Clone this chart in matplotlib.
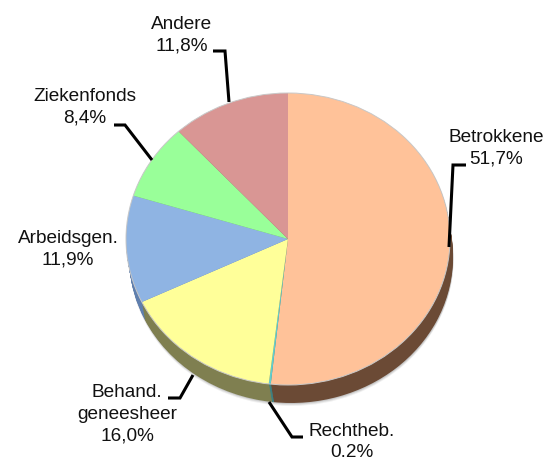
import matplotlib
matplotlib.use('Agg')
import matplotlib.pyplot as plt
import numpy as np

plt.rcParams['font.family'] = ['Liberation Sans', 'DejaVu Sans']

names = ['Betrokkene', 'Rechtheb.', 'Behand.\ngeneesheer', 'Arbeidsgen.', 'Ziekenfonds', 'Andere']
values = [51.7, 0.2, 16.0, 11.9, 8.4, 11.8]
pct_labels = ['51,7%', '0.2%', '16,0%', '11,9%', '8,4%', '11,8%']
colors = ['#FFC299', '#5FCFD0', '#FFFF99', '#8FB4E3', '#99FF99', '#D99694']
side_colors = ['#6B4A35', '#3F7F80', '#7F7F50', '#5F7FAE', '#66A866', '#8F6462']

W, H = 554, 461
cx, cy, rx, ry = 288, 239, 162, 146
depth = 18

label_pos = [(496, 148), (352, 442), (127, 414), (68, 249), (85, 107), (182, 35)]
leaders = [
    [(449, 247), (453, 165), (466, 165)],
    [(269, 402), (292, 437), (303, 437)],
    [(193, 375), (180, 398), (168, 398)],
    None,
    [(152, 160), (125, 125), (114, 125)],
    [(229, 102), (225, 51), (213, 51)],
]

fig = plt.figure(figsize=(W / 100, H / 100), dpi=100)
ax = fig.add_axes([0, 0, 1, 1])

# soft shadow under the side
for grow, alpha in [(3, 0.06), (2, 0.08), (1, 0.10)]:
    ax.add_patch(plt.Circle((3.5 / rx, -(depth + grow) / ry), 1, color='black', alpha=alpha, lw=0))

# side of the pie: stacked copies going down, drifting a bit to the right
for d in np.arange(depth, 0, -1):
    ax.pie(values, colors=side_colors, startangle=90, counterclock=False,
           center=(d * 0.17 / rx, -d / ry), radius=1, frame=True)
ax.pie(values, colors=colors, startangle=90, counterclock=False, center=(0, 0), radius=1,
       frame=True, wedgeprops={'linewidth': 0})
# thin grey rim on top
ax.add_patch(plt.Circle((0, 0), 1, fill=False, ec='#C8C8C8', lw=0.7))

ax.set_aspect('auto')
ax.set_xlim(-cx / rx, (W - cx) / rx)
ax.set_ylim((cy - H) / ry, cy / ry)
ax.axis('off')

# overlay in pixel coordinates for the labels and leader lines
ov = fig.add_axes([0, 0, 1, 1])
ov.set_xlim(0, W)
ov.set_ylim(H, 0)
ov.axis('off')
ov.patch.set_alpha(0)

for name, pct, pos, line in zip(names, pct_labels, label_pos, leaders):
    ov.text(pos[0], pos[1], name + '\n' + pct, ha='center', va='center', fontsize=13.7,
            color='#111111', linespacing=1.38)
    if line is not None:
        xs, ys = zip(*line)
        ov.plot(xs, ys, color='black', lw=2.2, solid_joinstyle='miter', solid_capstyle='butt')

fig.savefig('out.png', dpi=100)
